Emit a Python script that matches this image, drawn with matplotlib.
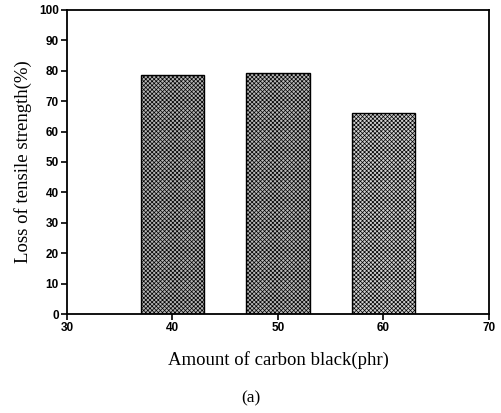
import matplotlib.pyplot as plt
import matplotlib as mpl

carbon_black = [40, 50, 60]
tensile_loss = [78.7, 79.3, 66.1]
x_ticks = [30, 40, 50, 60, 70]
y_ticks = [0, 10, 20, 30, 40, 50, 60, 70, 80, 90, 100]

mpl.rcParams['hatch.linewidth'] = 0.5
mpl.rcParams['hatch.color'] = '#8a8a8a'

fig = plt.figure(figsize=(5.01, 4.13), dpi=100)
ax = fig.add_axes([0.1337, 0.2397, 0.8423, 0.7361])

# halftone-ish fill, the 60 phr bar is a bit lighter in the scan
bar_colors = ['#b4b4b4', '#b8b8b8', '#cfcfcf']
ax.bar(carbon_black, tensile_loss, width=6, color=bar_colors, edgecolor='black',
       linewidth=1.0, hatch='xxxxxxxx')

ax.set_xlim(30, 70)
ax.set_ylim(0, 100)
ax.set_xticks(x_ticks)
ax.set_yticks(y_ticks)
ax.tick_params(axis='both', direction='out', length=4, width=1.2,
               labelsize=8.5, pad=2)
for lab in ax.get_xticklabels() + ax.get_yticklabels():
    lab.set_fontweight('bold')
    lab.set_family('Liberation Sans')
for s in ax.spines.values():
    s.set_linewidth(1.3)

ax.set_xlabel('Amount of carbon black(phr)', family='Liberation Serif',
              fontsize=13.5, labelpad=12)
ax.set_ylabel('Loss of tensile strength(%)', family='Liberation Serif',
              fontsize=13.5, labelpad=5)
fig.text(0.5, 0.025, '(a)', family='Liberation Serif', fontsize=12.5, ha='center')

fig.savefig('out.png', dpi=100)
